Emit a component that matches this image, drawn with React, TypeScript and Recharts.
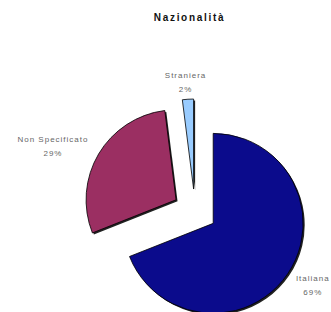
import React from 'react';
import { PieChart, Pie, Cell, Sector } from 'recharts';

const categories = ['Italiana', 'Non Specificato', 'Straniera'];
const shares = [69, 29, 2];
const colors = ['#0b0b8c', '#9b2f62', '#99ccff'];

const data = categories.map((name, i) => ({ name, value: shares[i] }));

const W = 331;
const H = 312;
const RAD = Math.PI / 180;
const EXPLODE = 22;

const ExplodedSlice = (props: any) => {
  const { cx, cy, midAngle, innerRadius, outerRadius, startAngle, endAngle, fill } = props;
  const dx = Math.cos(-midAngle * RAD) * EXPLODE;
  const dy = Math.sin(-midAngle * RAD) * EXPLODE;
  return (
    <g>
      <Sector
        cx={cx + dx + 1.5}
        cy={cy + dy + 1.5}
        innerRadius={innerRadius}
        outerRadius={outerRadius}
        startAngle={startAngle}
        endAngle={endAngle}
        fill="#222"
        stroke="none"
      />
      <Sector
        cx={cx + dx}
        cy={cy + dy}
        innerRadius={innerRadius}
        outerRadius={outerRadius}
        startAngle={startAngle}
        endAngle={endAngle}
        fill={fill}
        stroke="#000"
        strokeWidth={0.8}
      />
    </g>
  );
};

// label sits outside the exploded slice, pushed out by half its width, kept inside the chart
const renderLabel = (props: any) => {
  const { cx, cy, midAngle, name, percent } = props;
  const cos = Math.cos(-midAngle * RAD);
  const sin = Math.sin(-midAngle * RAD);
  const halfW = name.length * 2.4;
  let x = cx + 129 * cos + cos * halfW;
  x = Math.min(x, W - halfW + 1);
  const y = cy + 130 * sin + 1;
  return (
    <text
      x={x}
      y={y}
      textAnchor="middle"
      fill="#666"
      fontSize={8}
      fontFamily="'Liberation Sans', Arial, sans-serif"
      letterSpacing={1}
    >
      <tspan x={x} dy={-4}>{name}</tspan>
      <tspan x={x} dy={14}>{`${Math.round(percent * 100)}%`}</tspan>
    </text>
  );
};

export default function App() {
  return (
    <div style={{ width: W, height: H, background: '#fff', position: 'absolute', left: 0, top: 0 }}>
      <style>{'body{margin:0}'}</style>
      <div
        style={{
          position: 'absolute',
          top: 12,
          left: 0,
          width: 379,
          textAlign: 'center',
          fontFamily: 'Arial, "Liberation Sans", sans-serif',
          fontWeight: 'bold',
          fontSize: 10,
          letterSpacing: 1.7,
          color: '#111',
        }}
      >
        Nazionalità
      </div>
      <PieChart width={W} height={H} margin={{ top: 0, right: 0, bottom: 0, left: 0 }}>
        <Pie
          data={data}
          dataKey="value"
          nameKey="name"
          cx={195}
          cy={211}
          outerRadius={90}
          startAngle={90}
          endAngle={-270}
          shape={ExplodedSlice}
          label={renderLabel}
          labelLine={false}
          isAnimationActive={false}
        >
          {data.map((d, i) => (
            <Cell key={d.name} fill={colors[i]} />
          ))}
        </Pie>
      </PieChart>
    </div>
  );
}
